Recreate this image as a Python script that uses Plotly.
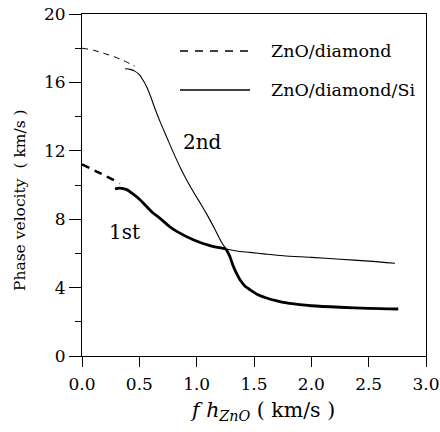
import plotly.graph_objects as go

# ZnO/diamond (dashed)
zd_2nd_x = [0.0, 0.10, 0.20, 0.30, 0.38, 0.46]
zd_2nd_y = [18.0, 17.88, 17.68, 17.45, 17.22, 16.95]
zd_1st_x = [0.0, 0.10, 0.20, 0.33]
zd_1st_y = [11.2, 10.88, 10.55, 10.1]

# ZnO/diamond/Si (solid); None splits the branch at the mode crossing
zds_2nd_x = [0.375, 0.42, 0.46, 0.50, 0.53, 0.564, 0.60, 0.64, 0.68, 0.74, 0.80, 0.86, 0.92, 0.98,
             1.04, 1.10, 1.16, 1.22, 1.256, None,
             1.256, 1.35, 1.465, 1.6, 1.755, 2.0, 2.25, 2.5, 2.73]
zds_2nd_y = [16.8, 16.76, 16.66, 16.45, 16.15, 15.75, 15.15, 14.4, 13.72, 12.78, 11.85, 10.98, 10.2, 9.5,
             8.85, 8.15, 7.4, 6.62, 6.26, None,
             6.26, 6.14, 6.06, 5.96, 5.86, 5.77, 5.66, 5.55, 5.42]
zds_1st_x = [0.288, 0.33, 0.39, 0.45, 0.506, 0.62, 0.68, 0.767, 0.826, 0.97, 1.116, 1.256, None,
             1.256, 1.29, 1.32, 1.35, 1.378, 1.42, 1.465, 1.53, 1.61, 1.7, 1.785, 1.9, 2.0, 2.25, 2.5, 2.758]
zds_1st_y = [9.77, 9.82, 9.73, 9.45, 9.14, 8.36, 8.05, 7.55, 7.29, 6.8, 6.45, 6.26, None,
             6.26, 5.8, 5.24, 4.8, 4.46, 4.1, 3.88, 3.6, 3.39, 3.22, 3.1, 3.0, 2.94, 2.85, 2.78, 2.75]

x_ticks = [0.0, 0.5, 1.0, 1.5, 2.0, 2.5, 3.0]
y_ticks = [0, 4, 8, 12, 16, 20]

FONT = "DejaVu Serif"

fig = go.Figure()
fig.add_trace(go.Scatter(x=zd_2nd_x, y=zd_2nd_y, mode="lines", line=dict(color="black", width=1, dash="6px,5px", shape="spline"), showlegend=False))
fig.add_trace(go.Scatter(x=zd_1st_x, y=zd_1st_y, mode="lines", line=dict(color="black", width=2.5, dash="8px,6px", shape="spline"), showlegend=False))
fig.add_trace(go.Scatter(x=zds_2nd_x, y=zds_2nd_y, mode="lines", connectgaps=False,
                         line=dict(color="black", width=1.1, shape="spline", smoothing=0.8), showlegend=False))
fig.add_trace(go.Scatter(x=zds_1st_x, y=zds_1st_y, mode="lines", connectgaps=False,
                         line=dict(color="black", width=2.8, shape="spline", smoothing=0.8), showlegend=False))

W, H = 440, 432
L, R, T, B = 82, 14, 14, 76
pw, ph = W - L - R, H - T - B

def px(x):
    return (x - L) / pw

def py(y):
    return (H - B - y) / ph

shapes = [
    dict(type="line", xref="paper", yref="paper", x0=px(180), x1=px(250), y0=py(51), y1=py(51),
         line=dict(color="black", width=1.5, dash="8px,7px")),
    dict(type="line", xref="paper", yref="paper", x0=px(180), x1=px(250), y0=py(90), y1=py(90),
         line=dict(color="black", width=1.5)),
]

annotations = [
    dict(text="ZnO/diamond", xref="paper", yref="paper", x=px(269), y=py(51), xanchor="left", yanchor="middle",
         showarrow=False, font=dict(family=FONT, size=17.5, color="black")),
    dict(text="ZnO/diamond/Si", xref="paper", yref="paper", x=px(269), y=py(90), xanchor="left", yanchor="middle",
         showarrow=False, font=dict(family=FONT, size=17.5, color="black")),
    dict(text="2nd", xref="paper", yref="paper", x=px(202), y=py(142), xanchor="center", yanchor="middle",
         showarrow=False, font=dict(family=FONT, size=20, color="black")),
    dict(text="1st", xref="paper", yref="paper", x=px(124), y=py(232), xanchor="center", yanchor="middle",
         showarrow=False, font=dict(family=FONT, size=20, color="black")),
    dict(text="Phase velocity  ( km/s )", xref="paper", yref="paper", x=px(20), y=py(200), xanchor="center", yanchor="middle",
         textangle=-90, showarrow=False, font=dict(family=FONT, size=15.5, color="black")),
    dict(text="<i>f</i>&nbsp;<i>h</i><sub><i>ZnO</i></sub>&nbsp;(&nbsp;km/s&nbsp;)", xref="paper", yref="paper",
         x=px(262), y=py(411), xanchor="center", yanchor="middle",
         showarrow=False, font=dict(family=FONT, size=20.5, color="black")),
]

fig.update_layout(
    template="none",
    width=W, height=H,
    margin=dict(l=L, r=R, t=T, b=B, pad=0, autoexpand=False),
    paper_bgcolor="white", plot_bgcolor="white",
    font=dict(family=FONT, color="black"),
    shapes=shapes, annotations=annotations,
    showlegend=False,
)
fig.update_xaxes(range=[0, 3], tickvals=x_ticks, ticktext=[f"{v:.1f}" for v in x_ticks], automargin=False,
                 ticks="outside", ticklen=10, tickwidth=1, tickcolor="black", ticklabelstandoff=3,
                 showline=True, linecolor="black", linewidth=1, mirror=True,
                 showgrid=False, zeroline=False, tickfont=dict(family=FONT, size=17, color="black"))
fig.update_yaxes(range=[0, 20], tickvals=y_ticks, automargin=False,
                 ticks="outside", ticklen=12, tickwidth=1, tickcolor="black",
                 minor=dict(dtick=2, tick0=0, ticks="outside", ticklen=6, tickcolor="black", tickwidth=1),
                 showline=True, linecolor="black", linewidth=1, mirror=True,
                 showgrid=False, zeroline=False, tickfont=dict(family=FONT, size=17, color="black"))

fig.write_html("out.html")
